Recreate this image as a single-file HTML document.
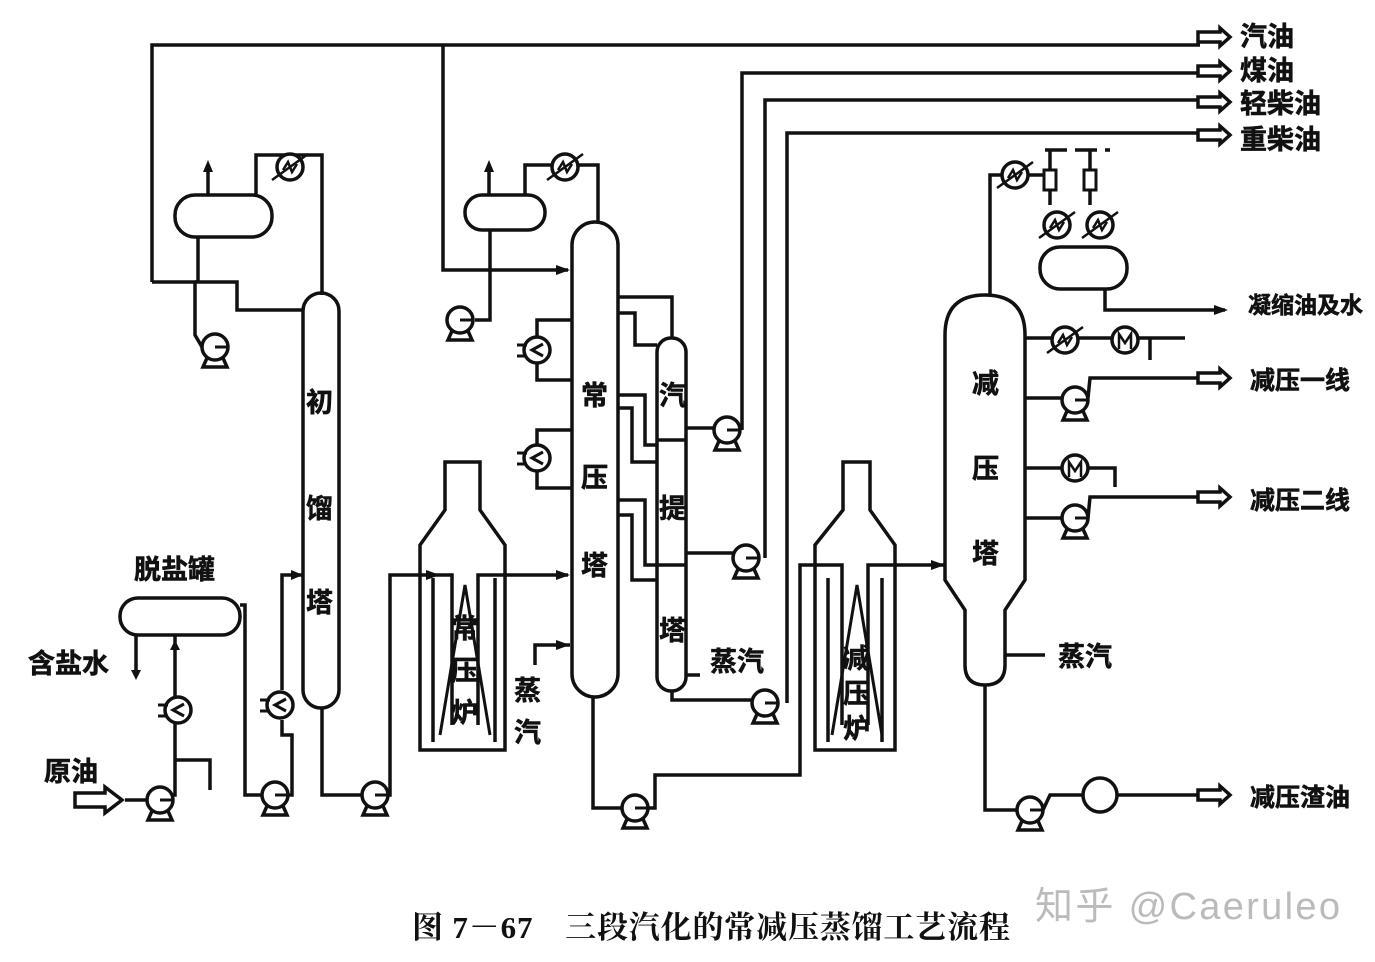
<!DOCTYPE html>
<html><head><meta charset="utf-8"><style>
body{margin:0;background:#fff;width:1375px;height:962px;overflow:hidden}
svg{display:block}
text{font-family:"Liberation Sans","Noto Sans CJK SC",sans-serif;font-weight:bold;fill:#111}
</style></head><body>
<svg width="1375" height="962" viewBox="0 0 1375 962" xmlns="http://www.w3.org/2000/svg">
<defs>
<g id="pump"><circle cx="0" cy="0" r="13" fill="#fff" stroke="#111" stroke-width="3.5"/><line x1="0" y1="0" x2="13" y2="0" stroke="#111" stroke-width="3"/><path d="M-8 11 L-12 20 L12 20 L8 11" fill="none" stroke="#111" stroke-width="3.5"/></g>
<g id="hx"><circle cx="0" cy="0" r="13" fill="#fff" stroke="#111" stroke-width="3.5"/><path d="M-7 3 L-2 -5 L2 5 L7 -3" fill="none" stroke="#111" stroke-width="2.5"/><line x1="-18" y1="13" x2="18" y2="-13" stroke="#111" stroke-width="2.5"/></g>
<g id="rb"><circle cx="0" cy="0" r="13" fill="#fff" stroke="#111" stroke-width="3.5"/><path d="M6 -6 L-5 0 L6 6" fill="none" stroke="#111" stroke-width="3"/><line x1="-20" y1="-5" x2="-10" y2="-5" stroke="#111" stroke-width="3"/><line x1="-20" y1="6" x2="-10" y2="6" stroke="#111" stroke-width="3"/></g>
<g id="m"><circle cx="0" cy="0" r="13" fill="#fff" stroke="#111" stroke-width="3.5"/><path d="M-6 9 L-6 -6 L0 3 L6 -6 L6 9" fill="none" stroke="#111" stroke-width="2.5"/></g>
<g id="out"><path d="M0 -5 L22 -5 L22 -9 L32 0 L22 9 L22 5 L0 5 Z" fill="#fff" stroke="#111" stroke-width="3.5"/></g>
</defs>
<g fill="none" stroke="#111" stroke-width="3.5">
<polyline points="152,282 152,45 1200,45"/>
<polyline points="443,45 443,270 568,270"/>
<polyline points="742,430 742,73 1200,73"/>
<polyline points="765,558 765,100 1200,100"/>
<polyline points="787,703 787,133 1200,133"/>
<polyline points="152,282 195,282 195,335 202,347"/>
<polyline points="195,282 237,282 237,310 303,310"/>
<rect x="175" y="195" width="97" height="42" rx="20"/>
<line x1="208" y1="195" x2="208" y2="165"/>
<polyline points="198,237 198,282"/>
<polyline points="256,195 256,155 322,155 322,295"/>
<rect x="303" y="293" width="36" height="415" rx="18"/>
<rect x="465" y="195" width="80" height="35" rx="17"/>
<line x1="489" y1="195" x2="489" y2="165"/>
<polyline points="490,230 490,320 475,320"/>
<polyline points="525,195 525,165 598,165 598,222"/>
<rect x="572" y="222" width="46" height="475" rx="23"/>
<polyline points="572,320 537,320 537,337"/><polyline points="537,363 537,380 572,380"/>
<polyline points="572,430 537,430 537,445"/><polyline points="537,471 537,488 572,488"/>
<polyline points="535,665 535,645 570,645"/>
<path d="M420 750 L420 545 L445 510 L445 462 L480 462 L480 510 L505 545 L505 750 Z"/>
<path d="M433 742 L433 578 M495 578 L495 742"/>
<path d="M440 735 L465 585 L490 735" stroke-width="3"/>
<polyline points="375,795 390,795 390,575 452,575 452,725"/>
<polyline points="478,725 478,575 568,575"/>
<path d="M815 750 L815 545 L843 510 L843 462 L870 462 L870 510 L895 545 L895 750 Z"/>
<path d="M828 742 L828 578 M882 578 L882 742"/>
<path d="M832 735 L857 585 L882 735" stroke-width="3"/>
<polyline points="593,697 593,808 622,808"/>
<polyline points="648,808 655,808 655,775 800,775 800,565 842,565 842,725"/>
<polyline points="868,725 868,565 945,565"/>
<rect x="657" y="338" width="29" height="353" rx="14"/>
<line x1="657" y1="440" x2="686" y2="440"/><line x1="657" y1="565" x2="686" y2="565"/>
<polyline points="618,297 672,297 672,338"/>
<polyline points="618,313 635,313 635,345 657,345"/>
<polyline points="618,395 645,395 645,445 657,445"/>
<polyline points="618,408 632,408 632,462 657,462"/>
<polyline points="618,500 645,500 645,565 657,565"/>
<polyline points="618,515 632,515 632,580 657,580"/>
<polyline points="686,428 714,428"/><polyline points="686,553 734,553"/>
<polyline points="686,675 700,675"/>
<polyline points="672,691 672,700 752,700"/>
<path d="M945 580 L945 335 Q945 295 985 295 Q1025 295 1025 335 L1025 580 L1005 610 L1005 665 Q1005 685 985 685 Q965 685 965 665 L965 610 Z"/>
<polyline points="990,295 990,175 1002,175"/>
<polyline points="1028,175 1050,175"/>
<polyline points="1045,150 1110,150" stroke-dasharray="22 8"/>
<line x1="1050" y1="150" x2="1050" y2="205"/><line x1="1090" y1="150" x2="1090" y2="205"/>
<rect x="1040" y="247" width="87" height="42" rx="20"/>
<polyline points="1105,289 1105,310 1225,310"/>
<polyline points="1025,338 1185,338"/>
<polyline points="1150,338 1150,360"/>
<polyline points="1025,398 1062,398"/><polyline points="1088,398 1090,378 1200,378"/>
<polyline points="1025,468 1115,468 1115,487"/>
<polyline points="1025,518 1062,518"/><polyline points="1088,518 1090,497 1200,497"/>
<line x1="1005" y1="655" x2="1045" y2="655"/>
<polyline points="985,685 985,810 1017,810"/>
<polyline points="1043,810 1050,795 1200,795"/>
<rect x="120" y="598" width="120" height="37" rx="18"/>
<polyline points="136,635 136,672"/>
<polyline points="175,635 175,697"/><polyline points="175,723 175,795 160,795"/>
<polyline points="175,760 210,760 210,790"/>
<polyline points="240,605 245,605 245,795 262,795"/>
<polyline points="288,795 292,795 292,735 282,735 282,720"/>
<polyline points="282,690 282,575 303,575"/>
<polyline points="322,708 322,795 362,795"/>
<path d="M75 793 L105 793 L105 787 L122 800 L105 813 L105 807 L75 807 Z" fill="#fff"/>
<polyline points="125,800 147,800"/>
</g>
<g fill="#111">
<path d="M208 160 l-5 12 h10z"/><path d="M489 160 l-5 12 h10z"/>
<path d="M136 680 l-5 -10 h10z"/><path d="M175 640 l-5 10 h10z"/>
<path d="M570 270 l-14 -5 v10z"/><path d="M570 575 l-14 -5 v10z"/><path d="M570 645 l-14 -5 v10z"/>
<path d="M440 575 l-14 -5 v10z"/><path d="M303 575 l-12 -5 v10z"/>
<path d="M945 565 l-14 -5 v10z"/><path d="M1228 310 l-14 -5 v10z"/>
</g>
<use href="#pump" x="215" y="347"/><use href="#pump" x="460" y="320"/>
<use href="#hx" x="290" y="167"/><use href="#hx" x="565" y="167"/>
<use href="#rb" x="537" y="350"/><use href="#rb" x="537" y="458"/>
<use href="#pump" x="727" y="430"/><use href="#pump" x="746" y="558"/><use href="#pump" x="765" y="703"/>
<use href="#pump" x="635" y="808"/>
<use href="#hx" x="1015" y="175"/><use href="#hx" x="1057" y="225"/><use href="#hx" x="1100" y="225"/>
<rect x="1044" y="170" width="12" height="20" fill="#fff" stroke="#111" stroke-width="3"/>
<rect x="1084" y="170" width="12" height="20" fill="#fff" stroke="#111" stroke-width="3"/>
<use href="#hx" x="1065" y="340"/><use href="#m" x="1125" y="340"/><use href="#pump" x="1075" y="400"/>
<use href="#m" x="1075" y="468"/><use href="#pump" x="1075" y="518"/>
<use href="#pump" x="1030" y="810"/>
<circle cx="1100" cy="795" r="17" fill="#fff" stroke="#111" stroke-width="3.5"/>
<use href="#rb" x="178" y="710"/><use href="#rb" x="280" y="705"/>
<use href="#pump" x="160" y="800"/><use href="#pump" x="275" y="795"/><use href="#pump" x="375" y="795"/>
<use href="#out" x="1198" y="37"/><use href="#out" x="1198" y="71"/><use href="#out" x="1198" y="102"/><use href="#out" x="1198" y="135"/>
<use href="#out" x="1198" y="378"/><use href="#out" x="1198" y="497"/><use href="#out" x="1198" y="795"/>
<g font-size="27" style="stroke:#111;stroke-width:0.6">
<text x="1240" y="46">汽油</text><text x="1240" y="80">煤油</text><text x="1240" y="113">轻柴油</text><text x="1240" y="149">重柴油</text>
<text x="1248" y="313" font-size="23">凝缩油及水</text><text x="1250" y="389" font-size="25">减压一线</text><text x="1250" y="509" font-size="25">减压二线</text><text x="1250" y="806" font-size="25">减压渣油</text>
<text x="1058" y="666">蒸汽</text><text x="710" y="671">蒸汽</text>
<text x="134" y="579">脱盐罐</text><text x="28" y="673">含盐水</text><text x="44" y="781">原油</text>
<text x="306" y="412">初</text><text x="306" y="518">馏</text><text x="306" y="612">塔</text>
<text x="581" y="405">常</text><text x="581" y="487">压</text><text x="581" y="575">塔</text>
<text x="659" y="405">汽</text><text x="659" y="518">提</text><text x="659" y="640">塔</text>
<text x="451" y="638">常</text><text x="451" y="680">压</text><text x="451" y="722">炉</text>
<text x="843" y="668">减</text><text x="843" y="703">压</text><text x="843" y="738">炉</text>
<text x="514" y="700">蒸</text><text x="514" y="742">汽</text>
<text x="972" y="393">减</text><text x="972" y="478">压</text><text x="972" y="563">塔</text>
</g>
<text x="412" y="938" font-size="31" textLength="598" style="font-family:'Liberation Serif','Noto Serif CJK SC',serif;font-weight:bold">图 7－67　三段汽化的常减压蒸馏工艺流程</text>
<text x="1035" y="919" font-size="38" textLength="305" style="fill:#bbb;font-weight:normal">知乎 @Caeruleo</text>
</svg>
</body></html>
